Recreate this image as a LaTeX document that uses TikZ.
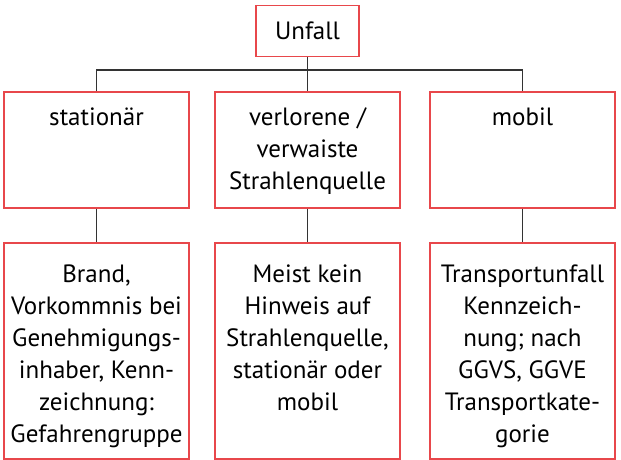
\documentclass[tikz,border=0pt]{standalone}
\usepackage{fontspec}
\setmainfont{PT Sans}
\definecolor{boxred}{HTML}{E8474B}
\definecolor{linegray}{HTML}{333333}
\begin{document}
\begin{tikzpicture}[x=1pt,y=-1pt,
  box/.style={draw=boxred,line width=1.2pt,rectangle,minimum width=185pt,inner sep=0pt},
  topbox/.style={box,minimum height=116pt},
  botbox/.style={box,minimum height=216pt},
  txt/.style={anchor=north,align=center,inner sep=0pt,font=\fontsize{25}{32}\selectfont},
  conn/.style={draw=linegray,line width=1.2pt}]
\useasboundingbox (0,0) rectangle (621,460);
\node[box,minimum width=103pt,minimum height=51pt,font=\fontsize{25}{32}\selectfont] (u) at (307.5,31) {Unfall};
\node[topbox] (a1) at (96.5,150) {};
\node[topbox] (b1) at (307.5,150) {};
\node[topbox] (c1) at (522.5,150) {};
\node[botbox] (a2) at (96.5,351) {};
\node[botbox] (b2) at (307.5,351) {};
\node[botbox] (c2) at (522.5,351) {};
\node[txt] at ([yshift=-11.3pt]a1.north) {\strut stationär};
\node[txt] at ([yshift=-11.3pt]b1.north) {\strut verlorene /\\verwaiste\\Strahlenquelle};
\node[txt] at ([yshift=-11.3pt]c1.north) {\strut mobil};
\node[txt] at ([yshift=-17.6pt]a2.north) {\strut Brand,\\Vorkommnis bei\\Genehmigungs-\\inhaber, Kenn-\\zeichnung:\\Gefahrengruppe};
\node[txt] at ([yshift=-17.6pt]b2.north) {\strut Meist kein\\Hinweis auf\\Strahlenquelle,\\stationär oder\\mobil};
\node[txt] at ([yshift=-17.6pt]c2.north) {\strut Transportunfall\\Kennzeich-\\nung; nach\\GGVS, GGVE\\Transportkate-\\gorie};
\coordinate (hl) at (96.5,70);
\coordinate (hr) at (522.5,70);
\draw[conn] (u.south) -- (b1.north);
\draw[conn] (a1.north) -- (hl) -- (hr) -- (c1.north);
\draw[conn] (a1.south) -- (a2.north);
\draw[conn] (b1.south) -- (b2.north);
\draw[conn] (c1.south) -- (c2.north);
\end{tikzpicture}
\end{document}
